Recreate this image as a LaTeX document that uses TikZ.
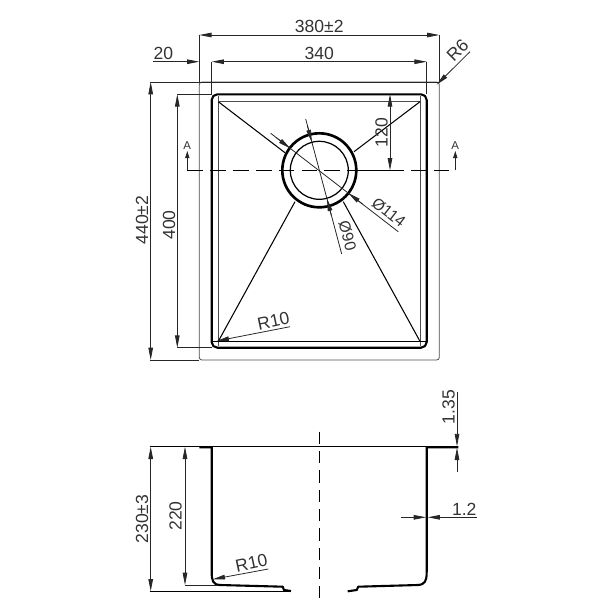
\documentclass[tikz,border=0pt]{standalone}
\usepackage{fontspec}
\setmainfont{Liberation Sans}
\usetikzlibrary{arrows.meta}
\tikzset{>={Triangle[length=7pt,width=2.6pt]},
dimline/.style={line width=0.45pt,black!85},
hairline/.style={line width=0.45pt,black!70},
sinkwall/.style={line width=1.2pt,black,line join=round},
ruleline/.style={line width=0.6pt,black},
dimtext/.style={inner sep=0pt,text=black!80,font=\fontsize{10}{12}\selectfont},
holetext/.style={inner sep=0pt,text=black!80,font=\fontsize{9}{11}\selectfont}}

\begin{document}
\begin{tikzpicture}[x=0.02cm,y=-0.02cm]
\useasboundingbox (0,0) rectangle (600,600);
\coordinate (c) at (319.3,170.3);
\coordinate (ul) at (218.3,101.7);
\coordinate (ur) at (420,101.7);
\coordinate (ll) at (218.3,341.3);
\coordinate (lr) at (420,341.3);
\coordinate (aL) at (187.3,170.3);
\coordinate (aR) at (455.3,170.3);

% top view
\draw[hairline,rounded corners=1.5pt] (199.3,82) rectangle (439.3,360);
\draw[sinkwall,rounded corners=3.2pt] (211.7,94.3) rectangle (426.7,347.7);
\draw[hairline] (218.3,96) -- (218.3,346) (420,96) -- (420,346);
\draw[hairline] (ul) -- (ur);
\draw[ruleline] (212.5,341.3) -- (426,341.3);
\draw[line width=1.5pt] (c) circle[radius=37];
\draw[line width=0.7pt] (c) circle[radius=29];
\draw[ruleline] (ul) -- (285,152.7);
\draw[ruleline] (ur) -- (354,151.7);
\draw[ruleline] (ll) -- (295,201.7);
\draw[ruleline] (lr) -- (343.3,201.7);

% section line
\draw[ruleline,dash pattern=on 9pt off 4pt] (aL) -- (356,170.3);
\draw[ruleline] (356,170.3) -- (388,170.3);
\draw[ruleline,dash pattern=on 9pt off 4pt] (388,170.3) -- (aR);
\draw[dimline,-{Triangle[length=4pt,width=2.4pt]}] (aL) -- (187.3,151);
\draw[dimline,-{Triangle[length=4pt,width=2.4pt]}] (aR) -- (455.3,151);
\node[dimtext,font=\fontsize{6.5}{8}\selectfont] (markL) at (187.3,146) {A};
\node[dimtext,font=\fontsize{6.5}{8}\selectfont] (markR) at (455.3,146) {A};

% dimensions of top view
\draw[dimline,<->] (199.3,35) -- (439.3,35);
\draw[dimline] (199.3,35) -- (199.3,82) (439.3,35) -- (439.3,82);
\node[dimtext] (w380) at (319.3,26) {380±2};
\draw[dimline,<->] (211.7,61.7) -- (426.7,61.7);
\draw[dimline] (211.7,61.7) -- (211.7,94.3) (426.7,61.7) -- (426.7,94.3);
\node[dimtext] (w340) at (319.3,53) {340};
\draw[dimline,->] (152.7,61.7) -- (199.3,61.7);
\node[dimtext] (w20) at (163.5,53) {20};
\draw[dimline,<-] (436.7,84.7) -- (470,51.7);
\node[dimtext,rotate=45] (r6) at (457.5,50.5) {R6};
\draw[dimline,<->] (150.7,82) -- (150.7,360);
\draw[dimline] (150,82) -- (439.3,82) (150,360) -- (199.3,360);
\node[dimtext,rotate=90] (h440) at (142,220) {440±2};
\draw[dimline,<->] (177.3,94.3) -- (177.3,347.7);
\draw[dimline] (177.3,94.3) -- (211.7,94.3) (177.3,347.7) -- (211.7,347.7);
\node[dimtext,rotate=90] (h400) at (169,225) {400};
\draw[dimline,<->] (390,94.3) -- (390,170.3);
\node[dimtext,rotate=90] (h120) at (381.5,132.5) {120};
\draw[dimline,<-] (216.7,341) -- (290,326.7);
\node[dimtext,rotate=12] (r10top) at (273.5,321) {R10};

% hole leaders
\draw[dimline] (270.7,133.3) -- (398.3,231.7);
\draw[dimline,->] (276,137.4) -- (290.3,148.4);
\draw[dimline,->] (362.5,204) -- (348.4,193.1);
\node[holetext,rotate=-38] (d114) at (388.8,212.5) {Ø114};
\draw[dimline] (305.7,119) -- (341.7,254);
\draw[dimline,->] (307.5,126) -- (311.8,142);
\draw[dimline,->] (331.5,216) -- (327,198.8);
\node[holetext,rotate=-75] (d90) at (347.5,236) {Ø90};

% section view
\draw[ruleline] (150,446.7) -- (458.3,446.7);
\draw[sinkwall] (199.3,447.2) -- (211.7,447.2) -- (211.7,572) .. controls (211.7,581) and (213,584.5) .. (220,585) -- (282.7,586.7) -- (284,590) -- (291,591);
\draw[sinkwall] (458.3,447.2) -- (426.7,447.2) -- (426.7,572) .. controls (426.7,581) and (425,584.5) .. (418,585) -- (358.3,586.7) -- (356.7,590) -- (347.7,591.3);
\draw[ruleline,dash pattern=on 7pt off 4pt] (319.3,431.7) -- (319.3,598.3);
\draw[dimline,<->] (150.7,446.7) -- (150.7,591.3);
\draw[ruleline] (150,591.3) -- (291,591.3);
\node[dimtext,rotate=90] (h230) at (142,519) {230±3};
\draw[dimline,<->] (185,446.7) -- (185,585);
\draw[dimline] (185,585) -- (218.3,585);
\node[dimtext,rotate=90] (h220) at (175.5,516) {220};
\draw[dimline,<-] (212.7,579.3) -- (268.3,569);
\node[dimtext,rotate=12] (r10low) at (251.5,563) {R10};
\draw[dimline,->] (457,392) -- (457,446.2);
\draw[dimline,->] (457,472.3) -- (457,447.7);
\node[dimtext,rotate=90] (t135) at (448.5,407) {1.35};
\draw[dimline,->] (401,517.3) -- (426,517.3);
\draw[dimline,->] (476.7,517.3) -- (427.7,517.3);
\node[dimtext] (t12) at (464.3,509) {1.2};
\end{tikzpicture}
\end{document}
